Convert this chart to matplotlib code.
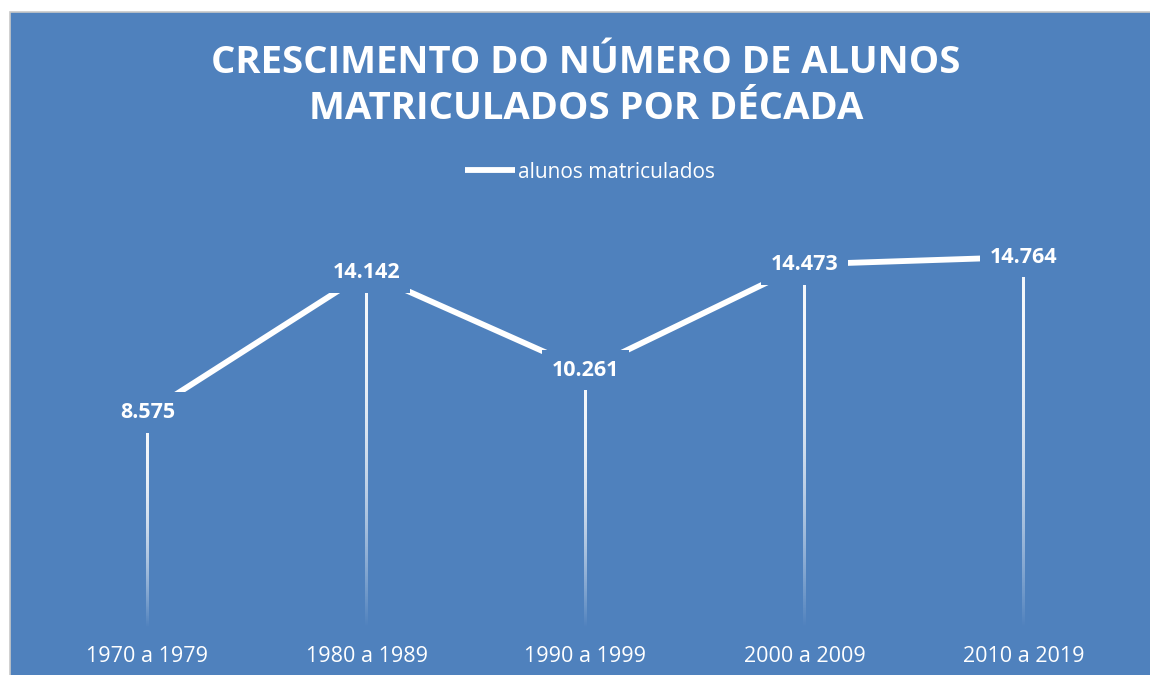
import matplotlib
matplotlib.use("Agg")
import matplotlib.pyplot as plt
import numpy as np
from matplotlib.patches import Rectangle

categories = ["1970 a 1979", "1980 a 1989", "1990 a 1999", "2000 a 2009", "2010 a 2019"]
values = [8.575, 14.142, 10.261, 14.473, 14.764]
labels = ["8.575", "14.142", "10.261", "14.473", "14.764"]
series_name = "alunos matriculados"
title = "CRESCIMENTO DO NÚMERO DE ALUNOS\nMATRICULADOS POR DÉCADA"

BLUE = "#4F81BD"
W, H = 1150, 675
fig = plt.figure(figsize=(W / 100, H / 100), dpi=100, facecolor="white")
fig.patches.append(Rectangle((10 / W, -0.01), 1.02 - 10 / W, (H - 12) / H + 0.01,
                             transform=fig.transFigure, facecolor=BLUE, edgecolor="#C8C8C8",
                             linewidth=1.2, zorder=-10))

ax = fig.add_axes([38 / W, 1 - 628 / H, (1133 - 38) / W, (628 - 226) / H])
ax.set_zorder(5)
ax.set_facecolor("none")
x = np.arange(len(categories))
ax.set_xlim(-0.5, len(categories) - 0.5)
ax.set_ylim(0, 16)
for s in ax.spines.values():
    s.set_visible(False)
ax.set_yticks([])
ax.set_xticks(x)
ax.set_xticklabels(categories, color="white", fontsize=15.5, family="Open Sans")
ax.tick_params(axis="x", length=0, pad=13)

# gradient drop lines (white fading to transparent at the bottom)
px = (ax.get_xlim()[1] - ax.get_xlim()[0]) / (1133 - 38)
n = 256
t = np.linspace(0, 1, n)  # 0 = top, 1 = bottom
alpha = np.clip(1 - t ** 2.2, 0, 1) * 0.95
grad = np.zeros((n, 1, 4))
grad[..., :3] = 1.0
grad[:, 0, 3] = alpha
for xi, v in zip(x, values):
    ax.imshow(grad, extent=(xi - 1.1 * px, xi + 1.1 * px, 0, v), origin="upper",
              aspect="auto", interpolation="bilinear", zorder=2)
ax.set_xlim(-0.5, len(categories) - 0.5)
ax.set_ylim(0, 16)

line, = ax.plot(x, values, color="white", lw=4.2, zorder=3, solid_capstyle="butt",
                label=series_name)

for xi, v, lab in zip(x, values, labels):
    ax.text(xi, v, lab, ha="center", va="center", color="white", fontsize=15.5,
            fontweight="bold", family="Open Sans", zorder=5,
            bbox=dict(boxstyle="square,pad=0.45", facecolor=BLUE, edgecolor="none"))

fig.text(586 / W, 1 - 86 / H, title, ha="center", va="center", color="white",
         fontsize=27.5, fontweight="bold", family="Open Sans", linespacing=1.28)

leg = fig.legend(handles=[line], loc="center", bbox_to_anchor=(590 / W, 1 - 172 / H),
                 frameon=False, labelcolor="white", handlelength=2.4,
                 handletextpad=0.1, prop={"family": "Open Sans", "size": 15})

fig.savefig("out.png", dpi=100, facecolor="white")
